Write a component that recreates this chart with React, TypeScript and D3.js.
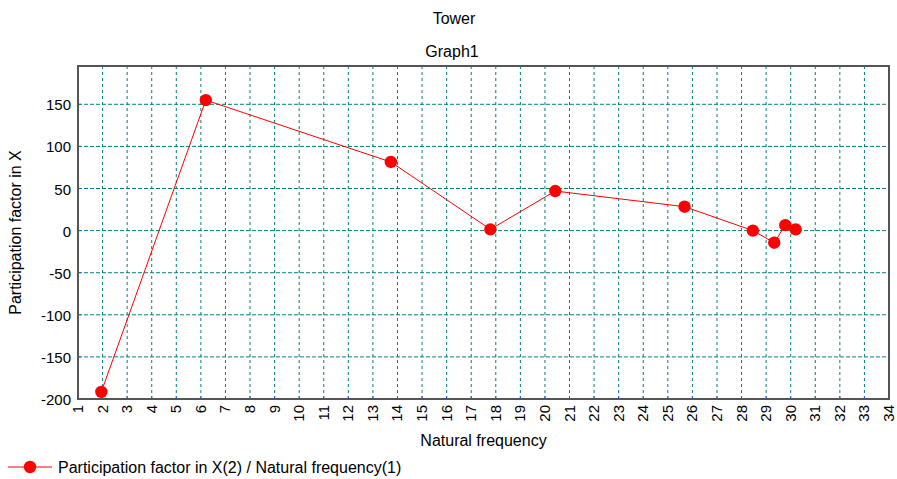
import React from "react";
import * as d3 from "d3";

const freq = [1.95, 6.2, 13.73, 17.78, 20.42, 25.68, 28.46, 29.33, 29.78, 30.2];
const participation = [-191.5, 155, 81.5, 1.5, 47, 28.4, 0, -14.4, 6.5, 1.5];
const xTicks = d3.range(1, 35);
const yTicks = [-200, -150, -100, -50, 0, 50, 100, 150];

const titleText = "Tower";
const subtitleText = "Graph1";
const xLabel = "Natural frequency";
const yLabel = "Participation factor in X";
const legendText = "Participation factor in X(2) / Natural frequency(1)";

const W = 897;
const H = 479;
const L = 78, R = 889, T = 66, B = 399;
const font = "'Liberation Sans', Arial, sans-serif";
const grid = "#008080";

export default function App() {
  const x = d3.scaleLinear().domain([1, 34]).range([L, R]);
  const y = d3.scaleLinear().domain([-200, 195.5]).range([B, T]);
  const line = d3.line<number>().x((_, i) => x(freq[i])).y((d) => y(d));
  return (
    <svg width={W} height={H} style={{ position: "absolute", left: 0, top: 0, background: "#fff" }} fontFamily={font}>
      <rect x={0} y={0} width={W} height={H} fill="#fff" />
      <text x={454} y={24} textAnchor="middle" fontSize={16}>{titleText}</text>
      <text x={452} y={57} textAnchor="middle" fontSize={16}>{subtitleText}</text>
      {xTicks.filter((t) => t > 1 && t < 34).map((t) => (
        <g key={"gx" + t}>
          <line x1={x(t)} x2={x(t)} y1={T} y2={B} stroke={grid} strokeDasharray="3,3" strokeWidth={1} />
          <line x1={x(t)} x2={x(t)} y1={B - 3} y2={B} stroke="#3050ff" strokeWidth={1} />
        </g>
      ))}
      {yTicks.filter((t) => t > -200).map((t) => (
        <g key={"gy" + t}>
          <line x1={L} x2={R} y1={y(t)} y2={y(t)} stroke={grid} strokeDasharray="4,2" strokeWidth={1} />
          <line x1={L} x2={L + 3} y1={y(t)} y2={y(t)} stroke="#3050ff" strokeWidth={1} />
        </g>
      ))}
      <rect x={L} y={T} width={R - L} height={B - T} fill="none" stroke="#555" strokeWidth={2} />
      {yTicks.map((t) => (
        <text key={"ty" + t} x={71} y={y(t) + 6} textAnchor="end" fontSize={15}>{t}</text>
      ))}
      {xTicks.map((t) => (
        <text key={"tx" + t} transform={`translate(${x(t) + 5},${B + 6}) rotate(-90)`} textAnchor="end" fontSize={15}>{t}</text>
      ))}
      <text x={(L + R) / 2} y={446} textAnchor="middle" fontSize={16}>{xLabel}</text>
      <text transform={`translate(21,${(T + B) / 2}) rotate(-90)`} textAnchor="middle" fontSize={16}>{yLabel}</text>
      <path d={line(participation) || ""} fill="none" stroke="#ff0000" strokeWidth={1} />
      {participation.map((v, i) => (
        <circle key={"p" + i} cx={x(freq[i])} cy={y(v)} r={6.2} fill="#ff0000" />
      ))}
      <line x1={8} x2={52} y1={467} y2={467} stroke="#ff0000" strokeWidth={1} />
      <circle cx={30} cy={467} r={6.2} fill="#ff0000" />
      <text x={58} y={473} fontSize={16}>{legendText}</text>
    </svg>
  );
}
